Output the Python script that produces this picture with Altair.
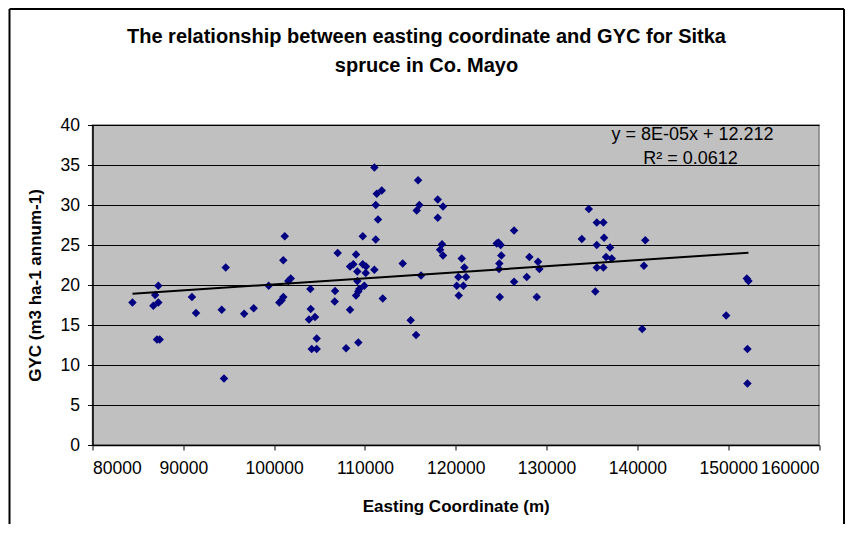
import altair as alt
import pandas as pd

# ---- data ----
easting = [
    84400, 86900, 86700, 87250, 87250, 87100, 87400, 90950, 91400, 94230,
    94670, 94480, 96700, 97750, 99400,
    100570, 100830, 101010, 101010, 101170, 101560, 101830, 103990, 104030, 103840,
    104500, 104690, 104140, 104690, 106710, 106670, 107000, 107920, 108360, 109020,
    108360, 108720, 109160, 109160, 109020, 109270, 109380, 109930, 109760, 110120,
    110090, 109270, 109760, 111040, 111190, 111300, 111850, 111440, 111190, 111040,
    111960, 114160, 115040, 115630, 115850, 115700, 115990, 116180, 118020, 118600,
    118020, 118490, 118270, 118600, 120660, 120950, 121130, 120290, 120110, 120840,
    120330,
    124510, 124950, 124700, 125020, 124800, 124770, 124850, 126420, 126420, 127820,
    128110, 129060, 129210, 128920, 133880, 134650, 135530, 136260, 136330, 135530,
    136990, 136550, 137180, 135530, 136260, 135370, 140870, 140720, 140530,
    149780, 152050, 152230, 152120, 152120,
]
gyc = [
    17.8, 18.75, 17.4, 19.9, 17.8, 13.2, 13.2, 18.5, 16.5, 16.9,
    22.2, 8.3, 16.4, 17.1, 19.9,
    17.8, 18.1, 18.5, 23.1, 26.1, 20.5, 20.8, 19.5, 17.0, 15.7,
    16.0, 13.3, 12.0, 12.0, 19.25, 17.95, 24.0, 12.1, 16.9, 23.8,
    22.3, 22.6, 21.7, 20.5, 18.7, 19.2, 19.5, 19.9, 22.6, 22.3,
    21.5, 12.8, 26.1, 34.7, 30.0, 31.4, 31.8, 28.2, 25.7, 21.9,
    18.3, 22.7, 15.6, 13.75, 33.1, 29.3, 30.0, 21.2, 30.7, 29.8,
    28.4, 25.1, 24.4, 23.7, 23.3, 22.2, 21.0, 21.0, 19.9, 19.9,
    18.7,
    25.2, 25.0, 25.3, 23.7, 22.7, 22.0, 18.5, 26.8, 20.4, 21.0,
    23.5, 22.9, 22.0, 18.5, 25.75, 29.5, 27.8, 27.8, 25.9, 25.0,
    24.7, 23.5, 23.3, 22.2, 22.2, 19.2, 25.6, 22.4, 14.5,
    16.2, 20.8, 20.5, 12.0, 7.7,
]
x_ticks = [80000, 90000, 100000, 110000, 120000, 130000, 140000, 150000, 160000]
y_ticks = [0, 5, 10, 15, 20, 25, 30, 35, 40]
title_lines = ["The relationship between easting coordinate and GYC for Sitka",
               "spruce in Co. Mayo"]
eq_lines = ["y = 8E-05x + 12.212", "R\u00b2 = 0.0612"]
x_title = "Easting Coordinate (m)"
y_title = "GYC (m3 ha-1 annum-1)"

df = pd.DataFrame({"easting": easting, "gyc": gyc})
FONT = "Liberation Sans"

xs = alt.Scale(domain=[80000, 160000], nice=False, zero=False)
ys = alt.Scale(domain=[0, 40], nice=False)

x_axis = alt.Axis(values=x_ticks, format="d", grid=False, labelOverlap=False,
                  labelPadding=9, titlePadding=22)
y_axis = alt.Axis(values=y_ticks, grid=True, gridColor="black", gridOpacity=1,
                  gridWidth=1, labelOverlap=False, labelPadding=8,
                  titlePadding=16)

points = alt.Chart(df).mark_point(
    shape="diamond", filled=True, size=72, color="#000080", opacity=1
).encode(
    x=alt.X("easting:Q", scale=xs, title=x_title, axis=x_axis),
    y=alt.Y("gyc:Q", scale=ys, title=y_title, axis=y_axis),
)

trend = alt.Chart(df).transform_regression("easting", "gyc").mark_line(
    color="black", strokeWidth=2
).encode(x=alt.X("easting:Q", scale=xs, title=x_title, axis=x_axis),
         y=alt.Y("gyc:Q", scale=ys, title=y_title, axis=y_axis))


def text_layer(t, x, y, size, weight="normal"):
    return alt.Chart(pd.DataFrame({"t": [t]})).mark_text(
        font=FONT, fontSize=size, fontWeight=weight, color="black",
        align="center", baseline="middle"
    ).encode(text="t:N", x=alt.value(x), y=alt.value(y))


title1 = text_layer(title_lines[0], 334, -88, 20, "bold")
title2 = text_layer(title_lines[1], 334, -59, 20, "bold")
eq1 = text_layer(eq_lines[0], 600, 10, 18)
eq2 = text_layer(eq_lines[1], 598, 34, 18)

one = pd.DataFrame({"a": [0]})
border_top = alt.Chart(one).mark_rule(color="black", strokeWidth=2).encode(
    x=alt.value(-83), x2=alt.value(751.5), y=alt.value(-116))
border_left = alt.Chart(one).mark_rule(color="black", strokeWidth=2).encode(
    x=alt.value(-83), y=alt.value(-116), y2=alt.value(400))
border_right = alt.Chart(one).mark_rule(color="black", strokeWidth=2).encode(
    x=alt.value(751.5), y=alt.value(-116), y2=alt.value(400))

chart = alt.layer(
    points, trend, title1, title2, eq1, eq2, border_top, border_left, border_right
).properties(
    width=726.5, height=320,
    autosize=alt.AutoSizeParams(type="none"),
    padding={"left": 84.5, "top": 117, "right": 26, "bottom": 79},
).configure_view(
    fill="#C0C0C0", stroke="#808080", strokeWidth=1.5
).configure_axis(
    labelFont=FONT, labelFontSize=17.5, labelColor="black",
    titleFont=FONT, titleFontSize=17, titleFontWeight="bold", titleColor="black",
    domainColor="black", domainWidth=1.5, tickColor="black", tickSize=5,
    tickWidth=1,
)

chart.save("out.html", embed_options={"renderer": "svg", "actions": False})
